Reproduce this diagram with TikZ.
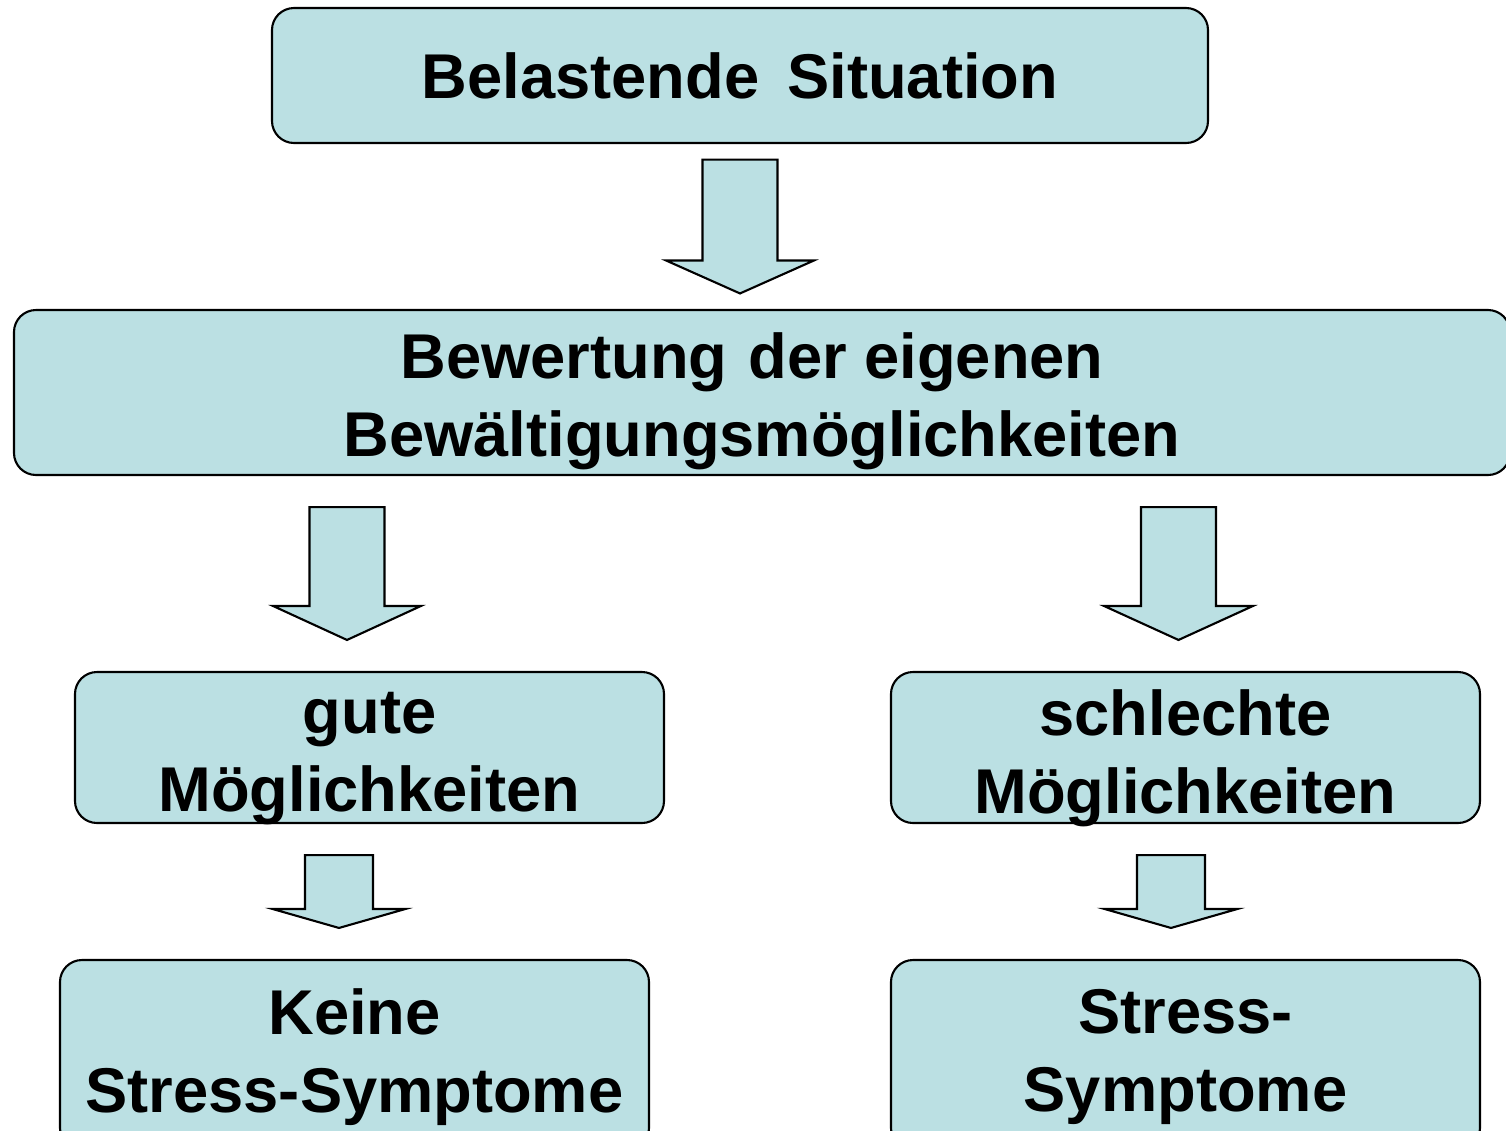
\documentclass[tikz,border=0pt]{standalone}
\usepackage{fontspec}
\setmainfont{Liberation Sans}
\usetikzlibrary{calc}
\definecolor{boxfill}{HTML}{BBE0E3}

\begin{document}
\begin{tikzpicture}[
  box/.style={draw, rounded corners=0.22cm, fill=boxfill, line width=0.6pt,
    minimum width=5.89cm, minimum height=1.51cm},
  txt/.style={align=center, font=\fontsize{18}{22.2}\selectfont\bfseries},
  blockarrow/.style={draw, fill=boxfill, line width=0.6pt, line join=miter}
]
\useasboundingbox (0,0) rectangle (15.06,-11.31);
\node[box, minimum width=9.36cm, minimum height=1.35cm,
  label={[txt]center:Belastende\hspace{8pt}Situation}] (sit) at (7.40,-0.755) {};
\node[box, minimum width=14.96cm, minimum height=1.65cm,
  label={[txt, yshift=-0.09cm]center:{\hspace*{-0.2cm}Bewertung\hspace{6pt}der eigenen\\Bewältigungsmöglichkeiten}}]
  (bew) at (7.62,-3.925) {};
\node[box, label={[txt, yshift=-0.11cm]center:{gute\\Möglichkeiten}}] (gut) at (3.695,-7.475) {};
\node[box, label={[txt, yshift=-0.11cm]center:{schlechte\\Möglichkeiten}}] (schl) at (11.855,-7.475) {};
\node[box, minimum height=1.9cm, label={[txt, yshift=-0.02cm]center:{Keine\\Stress-Symptome}}]
  (keine) at (3.545,-10.55) {};
\node[box, minimum height=1.9cm, label={[txt, yshift=-0.02cm]center:{Stress-\\Symptome}}]
  (stress) at (11.855,-10.55) {};
% block arrows: x / from / to / gap / shaft / head / head length
\foreach \ax/\from/\to/\gap/\sh/\hd/\hl in {
    7.40/sit/bew/0.155/0.375/0.74/0.33,
    3.47/bew/gut/0.31/0.375/0.74/0.34,
    11.785/bew/schl/0.31/0.375/0.745/0.34,
    3.39/gut/keine/0.31/0.34/0.665/0.19,
    11.71/schl/stress/0.31/0.34/0.665/0.19}
  \draw[blockarrow] let \p1=(\from.south), \p2=(\to.north) in
    ({\ax cm-\sh cm},{\y1-\gap cm}) -- ({\ax cm+\sh cm},{\y1-\gap cm})
    -- ({\ax cm+\sh cm},{\y2+\gap cm+\hl cm}) -- ({\ax cm+\hd cm},{\y2+\gap cm+\hl cm})
    -- ({\ax cm},{\y2+\gap cm}) -- ({\ax cm-\hd cm},{\y2+\gap cm+\hl cm})
    -- ({\ax cm-\sh cm},{\y2+\gap cm+\hl cm}) -- cycle;
\end{tikzpicture}
\end{document}
